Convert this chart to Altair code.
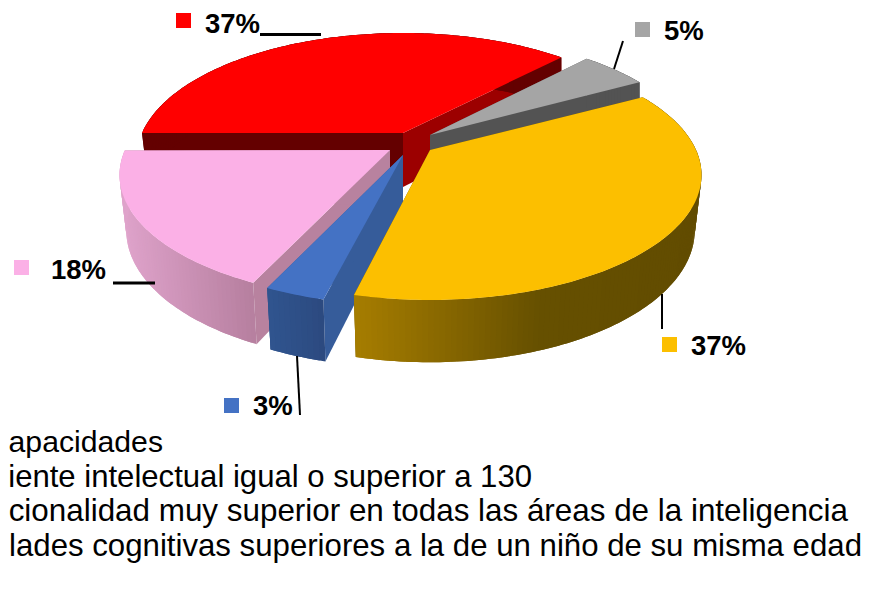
import math
import altair as alt

# ---- data ----
labels = ["37%", "5%", "37%", "3%", "18%"]
values = [37.2, 5, 36.7, 3, 18]
start_angles = [180, 46.8, 28.8, -104, -115]
radii = [261, 262, 266, 265, 265]
top_colors = ["#ff0000", "#a5a5a5", "#fcbf00", "#4472c4", "#fbb0e6"]
start_face = ["#640000", "#535353", "#665000", "#365c9a", "#b8829f"]
end_face = ["#9c0000", "#535353", "#665000", "#365c9a", "#b8829f"]
apex_x = [403, 430, 430, 403, 390]
apex_y = [133, 135, 150, 155, 150]
side_stops = [
    [(0, "#640000")],
    [(0, "#535353")],
    [(355, "#a67d00"), (540, "#665000"), (702, "#624c00")],
    [(267, "#30558f"), (322, "#2c4a80")],
    [(120, "#dfa3cb"), (253, "#b67f9f")],
]
draw_order = [0, 4, 3, 1, 2]

legend_lines = [
    "apacidades",
    "iente intelectual igual o superior a 130",
    "cionalidad muy superior en todas las áreas de la inteligencia",
    "lades cognitivas superiores a la de un niño de su misma edad",
]
legend_right = [163, 532, 848, 862]
legend_base = [452, 487, 521, 556]
legend_size = [30.2, 31.1, 31.4, 31.2]

label_x = [205, 664, 691, 253, 51]
label_base = [33, 39.5, 355, 415, 279]
swatch_x = [176, 635, 662, 224, 14]
swatch_y = [13, 22, 337, 398, 260]
leaders = [
    (260, 34.5, 321, 34.5, 3),
    (623, 41, 614, 69, 2),
    (662, 294, 662, 329, 2),
    (297, 356, 300, 415, 2),
    (113, 283, 155, 283, 3),
]

# ---- view of the pie ----
OFF = 8  # page margin
B, K = 120.0, 0.2
DEPTH, SY = 54.0, 1.055


def top_pt(i, deg):
    t = math.radians(deg)
    u, v = math.cos(t), math.sin(t)
    d = 1 + K * v
    return (apex_x[i] + radii[i] * u / d, apex_y[i] - B * v / d)


def bot_pt(i, deg):
    t = math.radians(deg)
    u, v = math.cos(t), math.sin(t)
    d = 1 + K * v
    sx = 0.975 + 0.025 * min(max(v / 0.4, 0), 1)
    return (apex_x[i] + sx * radii[i] * u / d, apex_y[i] + DEPTH - SY * B * v / d)


def apex_bot(i):
    return (apex_x[i], apex_y[i] + DEPTH)


def hex2rgb(c):
    return [int(c[j:j + 2], 16) for j in (1, 3, 5)]


def grad(stops, x):
    if len(stops) == 1 or x <= stops[0][0]:
        return stops[0][1]
    for (x0, c0), (x1, c1) in zip(stops, stops[1:]):
        if x <= x1:
            f = (x - x0) / (x1 - x0)
            a, b = hex2rgb(c0), hex2rgb(c1)
            return "#%02x%02x%02x" % tuple(round(p + f * (q - p)) for p, q in zip(a, b))
    return stops[-1][1]


def feature(pts, fill):
    ring = [[p[0] - OFF, p[1] - OFF] for p in pts]
    ring.append(ring[0])
    return {
        "type": "Feature",
        "properties": {"fill": fill},
        "geometry": {"type": "Polygon", "coordinates": [ring]},
    }


bounds = [(s, s - v * 3.6) for s, v in zip(start_angles, values)]

features = []
for i in draw_order:
    a0, a1 = bounds[i]
    top = (apex_x[i], apex_y[i])
    # cut faces
    features.append(feature([top, top_pt(i, a0), bot_pt(i, a0), apex_bot(i)], start_face[i]))
    features.append(feature([top, top_pt(i, a1), bot_pt(i, a1), apex_bot(i)], end_face[i]))
    # outer wall, shaded along the rim; each piece runs under the next one so no seam shows
    n = max(2, int((a0 - a1)))
    angs = [a0 + (a1 - a0) * j / n for j in range(n + 1)]
    for j in range(n):
        arc = angs[j:j + 3]
        mid = (top_pt(i, angs[j])[0] + top_pt(i, angs[j + 1])[0]) / 2
        pts = [top_pt(i, x) for x in arc] + [bot_pt(i, x) for x in reversed(arc)]
        features.append(feature(pts, grad(side_stops[i], mid)))
    # top face
    features.append(feature([top] + [top_pt(i, x) for x in angs], top_colors[i]))

pie = (
    alt.Chart(alt.InlineData(values={"type": "FeatureCollection", "features": features},
                             format=alt.DataFormat(type="json", property="features")))
    .mark_geoshape(strokeWidth=0)
    .encode(fill=alt.Fill("properties.fill:N", scale=None))
    .project(type="identity", scale=1, translate=[0, 0])
)

swatch_rows = [
    {"x": swatch_x[i] - OFF, "x2": swatch_x[i] + 15 - OFF,
     "y": swatch_y[i] - OFF, "y2": swatch_y[i] + 15 - OFF, "c": top_colors[i]}
    for i in range(5)
]
swatches = alt.Chart(alt.Data(values=swatch_rows)).mark_rect().encode(
    x=alt.X("x:Q", scale=None), x2="x2:Q",
    y=alt.Y("y:Q", scale=None), y2="y2:Q",
    fill=alt.Fill("c:N", scale=None),
)

leader_rows = [
    {"x": a - OFF, "y": b - OFF, "x2": c - OFF, "y2": d - OFF, "w": w}
    for a, b, c, d, w in leaders
]
rules = alt.Chart(alt.Data(values=leader_rows)).mark_rule(color="#000000").encode(
    x=alt.X("x:Q", scale=None), x2="x2:Q",
    y=alt.Y("y:Q", scale=None), y2="y2:Q",
    strokeWidth=alt.StrokeWidth("w:Q", scale=None),
)

label_rows = [
    {"x": label_x[i] - OFF, "y": label_base[i] - OFF, "t": labels[i]} for i in range(5)
]
pct = alt.Chart(alt.Data(values=label_rows)).mark_text(
    font="Liberation Sans", fontSize=27.5, fontWeight="bold", align="left",
    baseline="alphabetic", color="#000000",
).encode(x=alt.X("x:Q", scale=None), y=alt.Y("y:Q", scale=None), text="t:N")

legend_rows = [
    {"x": legend_right[i] - OFF, "y": legend_base[i] - OFF, "t": legend_lines[i], "s": legend_size[i]}
    for i in range(4)
]
legend = alt.Chart(alt.Data(values=legend_rows)).mark_text(
    font="Liberation Sans", align="right", baseline="alphabetic", color="#000000",
).encode(
    x=alt.X("x:Q", scale=None), y=alt.Y("y:Q", scale=None), text="t:N",
    size=alt.Size("s:Q", scale=None),
)

chart = (
    alt.layer(pie, swatches, rules, pct, legend)
    .resolve_scale(x="independent", y="independent")
    .properties(width=855, height=575, padding=0, autosize=alt.AutoSizeParams(type="none"))
    .configure_view(stroke=None)
    .configure_axis(disable=True)
)

chart.save("out.html", embed_options={"renderer": "svg", "actions": False})
